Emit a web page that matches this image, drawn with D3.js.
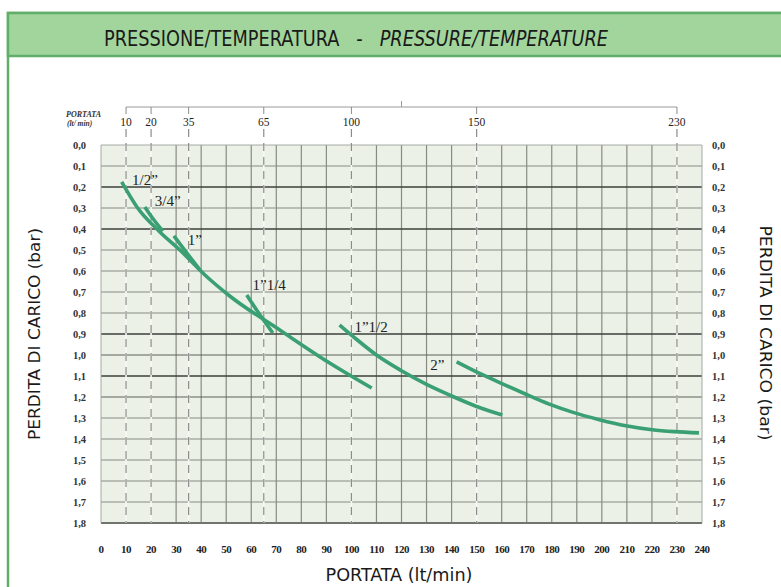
<!DOCTYPE html>
<html>
<head>
<meta charset="utf-8">
<script src="https://cdn.jsdelivr.net/npm/d3@7"></script>
<style>
body { margin: 0; background: #fff; }
</style>
</head>
<body>
<div id="chart"></div>
<script>
//
// data
//
var flowTicks = [0,10,20,30,40,50,60,70,80,90,100,110,120,130,140,150,160,170,180,190,200,210,220,230,240];
var pressureTicks = [0,0.1,0.2,0.3,0.4,0.5,0.6,0.7,0.8,0.9,1.0,1.1,1.2,1.3,1.4,1.5,1.6,1.7,1.8];
var topFlows = [10,20,35,65,100,150,230];
var darkRows = [0.2,0.4,0.9,1.1];
var midRows = [1.0,1.2];

// each size: [portata lt/min, perdita bar]
var half = [[8.25,0.176],[14.35,0.295],[23.5,0.414],[31.5,0.50],[41.5,0.619],[51.4,0.719],[71.4,0.881],[91.3,1.038],[108.1,1.157]];
var threeQuarter = [[17.5,0.295],[21,0.355],[24.7,0.41]];
var one = [[29.1,0.433],[34.3,0.515],[39.5,0.595]];
var oneQuarter = [[58.2,0.714],[63.5,0.81],[68.6,0.895]];
var oneHalf = [[95.3,0.857],[102,0.925],[110,1.0],[120,1.075],[130,1.14],[140,1.195],[150,1.245],[160.3,1.286]];
var two = [[142,1.033],[148.3,1.071],[159,1.13],[169.7,1.187],[179,1.234],[188.2,1.272],[199,1.308],[209.6,1.337],[220.1,1.356],[229,1.365],[238.8,1.371]];

var series = [
	{name: "1/2\u201D", values: half, label: [12.4, 0.19]},
	{name: "3/4\u201D", values: threeQuarter, label: [21.5, 0.29]},
	{name: "1\u201D", values: one, label: [34.6, 0.475]},
	{name: "1\u201D1/4", values: oneQuarter, label: [60.5, 0.69]},
	{name: "1\u201D1/2", values: oneHalf, label: [101.2, 0.89]},
	{name: "2\u201D", values: two, label: [131.5, 1.07]}
];

var W = 781, H = 587;
var plot = {left: 101, right: 702, top: 145, bottom: 523};

var x = d3.scaleLinear().domain([0, 240]).range([plot.left, plot.right]);
var y = d3.scaleLinear().domain([0, 1.8]).range([plot.top, plot.bottom]);

var svg = d3.select("#chart").append("svg")
	.attr("width", W)
	.attr("height", H)
	.style("display", "block");

var sansNarrow = "'DejaVu Sans Condensed','Liberation Sans Narrow','DejaVu Sans',sans-serif";
var serif = "'Liberation Serif','DejaVu Serif',serif";

//
// panel and green header
//
svg.append("rect")
	.attr("x", 8).attr("y", 13)
	.attr("width", W + 20).attr("height", H + 20)
	.style("fill", "#ffffff")
	.style("stroke", "#5fae6a")
	.style("stroke-width", 2.5);

svg.append("rect")
	.attr("x", 8).attr("y", 13)
	.attr("width", W + 20).attr("height", 43)
	.style("fill", "#a2d59c")
	.style("stroke", "#5fae6a")
	.style("stroke-width", 2.5);

var title = svg.append("text")
	.attr("x", 104).attr("y", 46)
	.attr("textLength", 504)
	.attr("lengthAdjust", "spacingAndGlyphs")
	.style("font-family", sansNarrow)
	.style("font-size", "21px")
	.style("fill", "#1a1a1a");
title.append("tspan").text("PRESSIONE/TEMPERATURA\u00A0\u00A0\u00A0-\u00A0\u00A0\u00A0");
title.append("tspan").style("font-style", "italic").text("PRESSURE/TEMPERATURE");

//
// plot background
//
svg.append("rect")
	.attr("x", plot.left).attr("y", plot.top)
	.attr("width", plot.right - plot.left)
	.attr("height", plot.bottom - plot.top)
	.style("fill", "#ebf1e6");

// solid vertical grid (not where a dashed line sits)
svg.append("g").selectAll("line")
	.data(flowTicks.filter(function(d) { return d > 0 && d < 240 && topFlows.indexOf(d) < 0; }))
	.enter().append("line")
	.attr("x1", function(d) { return x(d); })
	.attr("x2", function(d) { return x(d); })
	.attr("y1", plot.top).attr("y2", plot.bottom)
	.style("stroke", "#868c84")
	.style("stroke-width", 1.2);

// horizontal grid
function inList(list, d) {
	return list.some(function(r) { return Math.abs(r - d) < 1e-6; });
}
svg.append("g").selectAll("line")
	.data(pressureTicks.filter(function(d) { return d > 0 && d < 1.8; }))
	.enter().append("line")
	.attr("x1", plot.left).attr("x2", plot.right)
	.attr("y1", function(d) { return y(d); })
	.attr("y2", function(d) { return y(d); })
	.style("stroke", function(d) {
		if (inList(darkRows, d)) return "#3c3f3b";
		if (inList(midRows, d)) return "#5d625b";
		return "#868c84";
	})
	.style("stroke-width", function(d) { return inList(darkRows, d) ? 1.6 : 1.2; });

// plot frame
svg.append("line")
	.attr("x1", plot.left).attr("x2", plot.right)
	.attr("y1", plot.top).attr("y2", plot.top)
	.style("stroke", "#a5aaa3").style("stroke-width", 1);
svg.append("line")
	.attr("x1", plot.left).attr("x2", plot.right)
	.attr("y1", plot.bottom).attr("y2", plot.bottom)
	.style("stroke", "#6f746d").style("stroke-width", 2);
svg.append("line")
	.attr("x1", plot.left).attr("x2", plot.left)
	.attr("y1", plot.top).attr("y2", plot.bottom)
	.style("stroke", "#a5aaa3").style("stroke-width", 1);
svg.append("line")
	.attr("x1", plot.right).attr("x2", plot.right)
	.attr("y1", plot.top).attr("y2", plot.bottom)
	.style("stroke", "#a5aaa3").style("stroke-width", 1);

//
// top flow axis with dashed guide lines
//
var topY = 107;
svg.append("line")
	.attr("x1", x(topFlows[0])).attr("x2", x(topFlows[topFlows.length - 1]))
	.attr("y1", topY).attr("y2", topY)
	.style("stroke", "#9a9a9a").style("stroke-width", 1);
svg.append("line")
	.attr("x1", x(120)).attr("x2", x(120))
	.attr("y1", topY - 6).attr("y2", topY)
	.style("stroke", "#9a9a9a").style("stroke-width", 1);

var guides = svg.append("g").selectAll("g")
	.data(topFlows)
	.enter().append("g");

guides.append("line")
	.attr("x1", function(d) { return x(d); })
	.attr("x2", function(d) { return x(d); })
	.attr("y1", plot.top).attr("y2", plot.bottom)
	.style("stroke", "#f7f9f5").style("stroke-width", 1.6);
guides.append("line")
	.attr("x1", function(d) { return x(d); })
	.attr("x2", function(d) { return x(d); })
	.attr("y1", topY).attr("y2", 114)
	.style("stroke", "#8c8c8c").style("stroke-width", 1);
guides.append("line")
	.attr("x1", function(d) { return x(d); })
	.attr("x2", function(d) { return x(d); })
	.attr("y1", 129).attr("y2", plot.bottom)
	.style("stroke", "#8c8c8c")
	.style("stroke-width", 1.2)
	.style("stroke-dasharray", "8,6");

guides.append("text")
	.attr("x", function(d) { return x(d); })
	.attr("y", 126)
	.attr("text-anchor", "middle")
	.style("font-family", serif)
	.style("font-size", "11.5px")
	.style("fill", "#222")
	.text(function(d) { return d; });

svg.append("text")
	.attr("x", 66).attr("y", 117)
	.style("font-family", serif)
	.style("font-size", "8px")
	.style("font-style", "italic")
	.style("font-weight", "bold")
	.style("fill", "#333")
	.text("PORTATA");
svg.append("text")
	.attr("x", 67).attr("y", 126)
	.style("font-family", serif)
	.style("font-size", "7.5px")
	.style("font-style", "italic")
	.style("font-weight", "bold")
	.style("fill", "#333")
	.text("(lt/ min)");

//
// left / right / bottom tick labels
//
function comma(d) { return d.toFixed(1).replace(".", ","); }

svg.append("g").selectAll("text")
	.data(pressureTicks)
	.enter().append("text")
	.attr("x", 86)
	.attr("y", function(d) { return y(d); })
	.attr("dy", "0.35em")
	.attr("text-anchor", "end")
	.style("font-family", serif)
	.style("font-size", "10.5px")
	.style("font-weight", "bold")
	.style("fill", "#333")
	.text(comma);

svg.append("g").selectAll("text")
	.data(pressureTicks)
	.enter().append("text")
	.attr("x", 712)
	.attr("y", function(d) { return y(d); })
	.attr("dy", "0.35em")
	.attr("text-anchor", "start")
	.style("font-family", serif)
	.style("font-size", "10.5px")
	.style("font-weight", "bold")
	.style("fill", "#333")
	.text(comma);

svg.append("g").selectAll("text")
	.data(flowTicks)
	.enter().append("text")
	.attr("x", function(d) { return x(d); })
	.attr("y", 553)
	.attr("text-anchor", "middle")
	.style("font-family", serif)
	.style("font-size", "11px")
	.style("font-weight", "bold")
	.style("letter-spacing", "-0.5px")
	.style("fill", "#222")
	.text(function(d) { return d; });

//
// axis titles
//
svg.append("text")
	.attr("x", 399).attr("y", 581)
	.attr("text-anchor", "middle")
	.attr("textLength", 147)
	.attr("lengthAdjust", "spacingAndGlyphs")
	.style("font-family", sansNarrow)
	.style("font-size", "18px")
	.style("fill", "#1a1a1a")
	.text("PORTATA (lt/min)");

svg.append("text")
	.attr("transform", "translate(40,334) rotate(-90)")
	.attr("text-anchor", "middle")
	.attr("textLength", 212)
	.attr("lengthAdjust", "spacingAndGlyphs")
	.style("font-family", sansNarrow)
	.style("font-size", "16px")
	.style("fill", "#1a1a1a")
	.text("PERDITA DI CARICO (bar)");

svg.append("text")
	.attr("transform", "translate(760,333) rotate(90)")
	.attr("text-anchor", "middle")
	.attr("textLength", 215)
	.attr("lengthAdjust", "spacingAndGlyphs")
	.style("font-family", sansNarrow)
	.style("font-size", "16px")
	.style("fill", "#1a1a1a")
	.text("PERDITA DI CARICO (bar)");

//
// the loss curves
//
var line = d3.line()
	.x(function(d) { return x(d[0]); })
	.y(function(d) { return y(d[1]); })
	.curve(d3.curveMonotoneX);

svg.append("g").selectAll("path")
	.data(series)
	.enter().append("path")
	.attr("d", function(d) { return line(d.values); })
	.style("fill", "none")
	.style("stroke", "#3aa073")
	.style("stroke-width", 3.6)
	.style("stroke-linecap", "butt");

svg.append("g").selectAll("text")
	.data(series)
	.enter().append("text")
	.attr("x", function(d) { return x(d.label[0]); })
	.attr("y", function(d) { return y(d.label[1]); })
	.style("font-family", serif)
	.style("font-size", "15px")
	.style("fill", "#222")
	.text(function(d) { return d.name; });
</script>
</body>
</html>
